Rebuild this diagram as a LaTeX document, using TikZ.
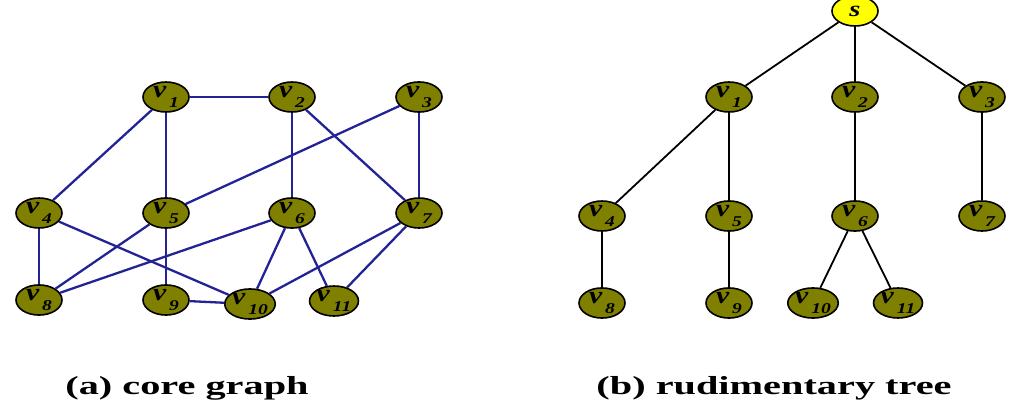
\documentclass[tikz,border=0pt]{standalone}
\usepackage{fontspec}
\setmainfont{Liberation Serif}
\usepackage{tikz}
\usetikzlibrary{shapes.geometric}
\definecolor{vtxolive}{RGB}{128,128,0}
\definecolor{sroot}{RGB}{255,255,0}
\definecolor{coreblue}{RGB}{35,35,150}
\newcommand{\vlab}[1]{\bfseries\itshape\scalebox{1.35}[1.1]{v}\hspace{3pt}\raisebox{-10pt}{\scalebox{1.3}[1]{\fontsize{15}{15}\selectfont #1}}}

\begin{document}
\begin{tikzpicture}[x=1pt, y=-1pt,
  vtx/.style={ellipse, draw, line width=1.6pt, fill=vtxolive, minimum width=46pt, minimum height=30pt, inner sep=0pt, font=\fontsize{22}{22}\selectfont},
  rootvtx/.style={vtx, fill=sroot},
  coreedge/.style={draw=coreblue, line width=2.3pt},
  treeedge/.style={draw=black, line width=1.8pt},
  caption/.style={font=\fontsize{26}{26}\selectfont\bfseries}]
\useasboundingbox (0,0) rectangle (1017,418);
% (a) core graph
\node[vtx] (a1) at (166,97) {\vlab{1}};
\node[vtx] (a2) at (292,97) {\vlab{2}};
\node[vtx] (a3) at (419,97) {\vlab{3}};
\node[vtx] (a4) at (39,213) {\vlab{4}};
\node[vtx] (a5) at (166,213) {\vlab{5}};
\node[vtx] (a6) at (292,213) {\vlab{6}};
\node[vtx] (a7) at (419,213) {\vlab{7}};
\node[vtx] (a8) at (39,300) {\vlab{8}};
\node[vtx] (a9) at (166,300) {\vlab{9}};
\node[vtx] (a10) at (250,304) {\vlab{10}};
\node[vtx] (a11) at (334,301) {\vlab{11}};
\foreach \u/\w in {a1/a2,a1/a4,a1/a5,a2/a6,a2/a7,a3/a5,a3/a7,a4/a8,a4/a10,
  a5/a8,a5/a9,a6/a8,a6/a10,a6/a11,a7/a10,a7/a11,a9/a10}
  \draw[coreedge] (\u) -- (\w);
% (b) rudimentary tree
\node[rootvtx] (s) at (855,11) {\bfseries\itshape\scalebox{1.3}[1]{s}};
\node[vtx] (b1) at (729,97) {\vlab{1}};
\node[vtx] (b2) at (855,97) {\vlab{2}};
\node[vtx] (b3) at (982,97) {\vlab{3}};
\node[vtx] (b4) at (602,216) {\vlab{4}};
\node[vtx] (b5) at (729,216) {\vlab{5}};
\node[vtx] (b6) at (855,216) {\vlab{6}};
\node[vtx] (b7) at (982,216) {\vlab{7}};
\node[vtx] (b8) at (602,303) {\vlab{8}};
\node[vtx] (b9) at (729,303) {\vlab{9}};
\node[vtx] (b10) at (813,303) {\vlab{10}};
\node[vtx] (b11) at (898,303) {\vlab{11}};
\foreach \u/\w in {s/b1,s/b2,s/b3,b1/b4,b1/b5,b2/b6,b3/b7,b4/b8,b5/b9,b6/b10,b6/b11}
  \draw[treeedge] (\u) -- (\w);
% captions
\node[caption] (capa) at (187,388) {\scalebox{1.55}[1]{(a) core graph}};
\node[caption] (capb) at (774,388) {\scalebox{1.55}[1]{(b) rudimentary tree}};
\end{tikzpicture}
\end{document}
